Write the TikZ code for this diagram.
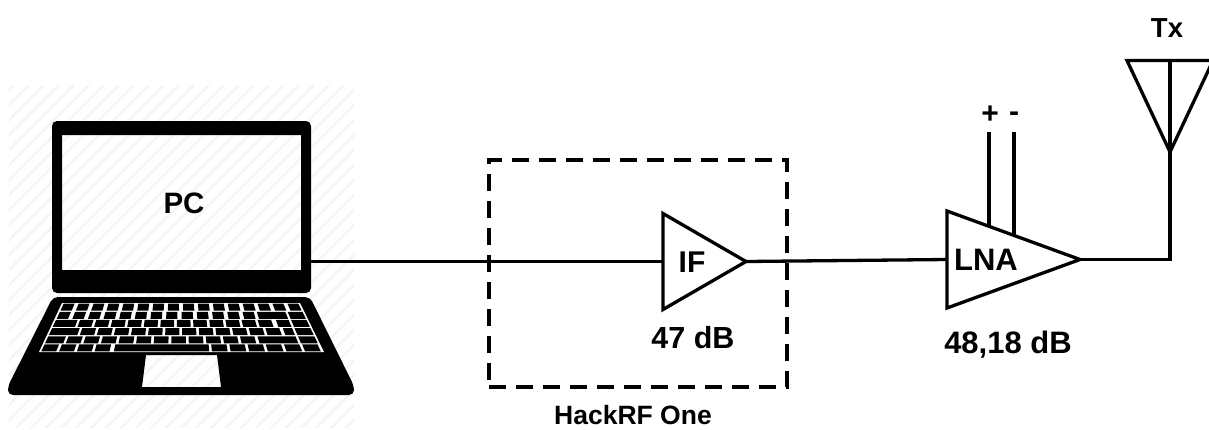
\documentclass[tikz,border=0pt]{standalone}
\usepackage{fontspec}
\setmainfont{Liberation Sans}
\usetikzlibrary{shapes.geometric}
\definecolor{hatch}{gray}{0.955}
\tikzset{
  wire/.style={line width=3.3pt,draw=black},
  amp/.style={isosceles triangle,isosceles triangle stretches,draw=black,line width=3.3pt,inner sep=0pt,outer sep=0pt,shape border rotate=0,fill=none,anchor=lower side},
  txt/.style={font=\bfseries\fontsize{#1}{#1}\selectfont,inner sep=0pt,text=black},
  dashbox/.style={draw=black,line width=3.3pt,dash pattern=on 17pt off 10pt},
}
\newcommand{\kbkey}[3]{% row, u0, u1 (u in 0..1)
  \begingroup
  \pgfmathsetmacro{\kbvA}{(#1-1)/6+0.012}\pgfmathsetmacro{\kbvB}{#1/6-0.012}
  \pgfmathsetmacro{\kbLA}{62-23*\kbvA}\pgfmathsetmacro{\kbRA}{300+24*\kbvA}
  \pgfmathsetmacro{\kbLB}{62-23*\kbvB}\pgfmathsetmacro{\kbRB}{300+24*\kbvB}
  \pgfmathsetmacro{\kbyA}{303+49*\kbvA}\pgfmathsetmacro{\kbyB}{303+49*\kbvB}
  \fill[black] ({\kbLA+(#2)*(\kbRA-\kbLA)+0.6},\kbyA) -- ({\kbLA+(#3)*(\kbRA-\kbLA)-0.6},\kbyA) -- ({\kbLB+(#3)*(\kbRB-\kbLB)-0.6},\kbyB) -- ({\kbLB+(#2)*(\kbRB-\kbLB)+0.6},\kbyB) -- cycle;
  \endgroup
}
\begin{document}
\begin{tikzpicture}[x=1pt,y=-1pt]
\useasboundingbox (0,0) rectangle (1209,429);
% hatched background
\begin{scope}
  \clip (9,85) rectangle (354,427);
  \foreach \ka in {-345,-330,...,360} \draw[hatch,line width=2.4pt] (\ka,429) -- (\ka+344,85);
\end{scope}
% laptop
\fill[black,even odd rule] [rounded corners=5pt] (52,121) rectangle (311,293) [sharp corners] (62,135) rectangle (301,270);
\fill[black,even odd rule] [rounded corners=5pt] (53,297) -- (310,297) -- (354,386) -- (354,395) -- (8,395) -- (8,386) -- cycle
  [sharp corners] (146,355) -- (217,355) -- (221,387) -- (142,387) -- cycle;
\fill[white] (62,303) -- (300,303) -- (324,352) -- (39,352) -- cycle;
\foreach \ki in {0,...,15} {\kbkey{1}{\ki/16+0.006}{(\ki+1)/16-0.006}}
\foreach \ki in {0,...,12} {\kbkey{2}{\ki/16.2+0.006}{(\ki+1)/16.2-0.006}}
\kbkey{2}{0.805}{0.925}\kbkey{2}{0.93}{0.995}
\kbkey{3}{0.005}{0.095}
\foreach \ki in {0,...,11} {\kbkey{3}{0.1+\ki*0.0635}{0.1+(\ki+1)*0.0635-0.006}}
\kbkey{3}{0.87}{0.925}\kbkey{3}{0.93}{0.995}
\kbkey{4}{0.005}{0.115}
\foreach \ki in {0,...,11} {\kbkey{4}{0.12+\ki*0.0635}{0.12+(\ki+1)*0.0635-0.006}}
\kbkey{4}{0.885}{0.925}\kbkey{4}{0.93}{0.995}
\kbkey{5}{0.005}{0.075}
\foreach \ki in {0,...,10} {\kbkey{5}{0.08+\ki*0.0635}{0.08+(\ki+1)*0.0635-0.006}}
\kbkey{5}{0.78}{0.925}\kbkey{5}{0.93}{0.995}
\foreach \ki in {0,...,3} {\kbkey{6}{0.005+\ki*0.0625}{0.005+(\ki+1)*0.0625-0.006}}
\kbkey{6}{0.26}{0.6}
\foreach \ki in {0,...,5} {\kbkey{6}{0.605+\ki*0.0655}{0.605+(\ki+1)*0.0655-0.006}}
% nodes
\node[minimum width=259pt,minimum height=172pt,inner sep=0pt,outer sep=0pt] (screen) at (181.5,207) {};
\node[txt=29.5] (pc) at (184,203) {PC};
\node[dashbox,minimum width=298pt,minimum height=227pt,inner sep=0pt,outer sep=0pt] (hackrf) at (638,273.5) {};
\node[amp,minimum width=96pt,minimum height=83pt] (ifamp) at (663,261.5) {};
\node[amp,minimum width=97pt,minimum height=133pt] (lna) at (947,259.5) {};
\node[txt=30] (iftext) at (692,262) {IF};
\node[txt=31] (lnatext) at (986,260) {LNA};
\node[txt=30.5] (ifgain) at (693,338) {47 dB};
\node[txt=31] (lnagain) at (1008,345) {48,18 dB};
\node[txt=26.5] (hackrftext) at (633,415) {HackRF One};
\node[txt=27.5] (tx) at (1167,28) {Tx};
\node[txt=30] (plus) at (990,115) {+};
\node[txt=30] (minus) at (1014,117) {-};
% antenna
\coordinate (antL) at (1127,60.5);
\coordinate (antR) at (1213,60.5);
\coordinate (antTop) at (1170,60.5);
\coordinate (antTip) at (1170,152);
\coordinate (corner) at (1170,259.5);
\draw[wire,line join=miter] (antL) -- (antR) -- (antTip) -- cycle;
\draw[wire] (antTop) -- (antTip);
% connectors
\draw[wire] (screen.east |- ifamp.lower side) -- (ifamp.lower side);
\draw[wire] (ifamp.apex) -- (lna.lower side);
\draw[wire,line join=miter] (lna.apex) -- (corner) -- (antTip);
\coordinate (plusTop) at (989,132);
\coordinate (minusTop) at (1014,132);
\coordinate (plusFoot) at (989,226);
\coordinate (minusFoot) at (1014,235);
\draw[wire] (plusTop) -- (plusFoot);
\draw[wire] (minusTop) -- (minusFoot);
\end{tikzpicture}
\end{document}
